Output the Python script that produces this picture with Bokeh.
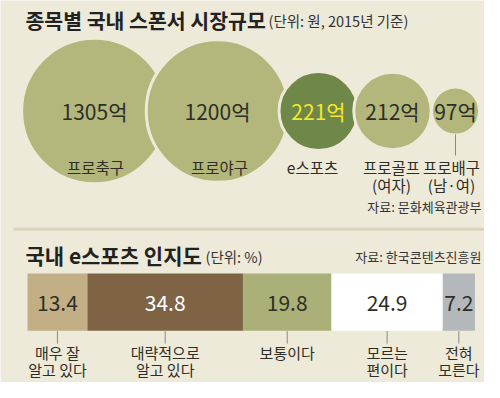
import numpy as np
from bokeh.plotting import figure
from bokeh.models import Range1d
from bokeh.core.properties import value
from bokeh.embed import file_html
from bokeh.resources import INLINE

# ---- data ----
sports = ["프로축구", "프로야구", "e스포츠", "프로골프\n(여자)", "프로배구\n(남·여)"]
market_eok = [1305, 1200, 221, 212, 97]
awareness_labels = ["매우 잘\n알고 있다", "대략적으로\n알고 있다", "보통이다", "모르는\n편이다", "전혀\n모른다"]
awareness_pct = [13.4, 34.8, 19.8, 24.9, 7.2]

title1 = "종목별 국내 스폰서 시장규모"
unit1 = "(단위: 원, 2015년 기준)"
source1 = "자료: 문화체육관광부"
title2 = "국내 e스포츠 인지도"
unit2 = "(단위: %)"
source2 = "자료: 한국콘텐츠진흥원"

# ---- style ----
BG = "#EEEAD9"
FONT = value("Noto Sans CJK KR")
DARK = "#2E2E28"
LINE = "#8C8C84"

p = figure(width=484, height=382, x_range=Range1d(0, 484), y_range=Range1d(394, 0),
           output_backend="svg", toolbar_location=None,
           x_axis_location=None, y_axis_location=None, min_border=0)
p.background_fill_color = BG
p.border_fill_color = BG
p.outline_line_color = None
p.grid.visible = False
# percentage scale for the stacked bar: 0..100 spans x = 27..474 px
p.extra_x_ranges = {"pct": Range1d((0 - 27) / 4.47, (484 - 27) / 4.47)}

# ---- titles ----
p.text(x=[25], y=[20], text=[title1], text_font=FONT, text_font_size="20.5px",
       text_font_style="bold", text_color="#222222", text_baseline="middle", text_align="left")
p.text(x=[268], y=[21], text=[unit1], text_font=FONT, text_font_size="14.5px",
       text_color="#333333", text_baseline="middle", text_align="left")

# ---- bubbles ----
m = np.array(market_eok, dtype=float)
radius = 24 + 18.8 * np.log(m / m.min())
cx = [94, 217, 318, 392, 455]
cy = 114
bub_colors = ["#B3B77B", "#B3B77B", "#6F8748", "#B3B77B", "#B3B77B"]
p.circle(x=cx, y=[cy] * 5, radius=radius, fill_color=bub_colors,
         line_color=BG, line_width=3)
num_colors = [DARK, DARK, "#F4E82C", DARK, DARK]
p.text(x=cx, y=[cy] * 5, text=[f"{v}억" for v in market_eok], text_font=FONT,
       text_font_size="21px", text_color=num_colors, text_align="center",
       text_baseline="middle")
# leader line for the smallest bubble
p.segment(x0=[cx[4]], y0=[cy + radius[4]], x1=[cx[4]], y1=[160],
          line_color=LINE, line_width=1)

lab_x = [95, 219, 312, 391, 451]
for i, lab in enumerate(sports):
    for j, line in enumerate(lab.split("\n")):
        p.text(x=[lab_x[i]], y=[172 + j * 18], text=[line], text_font=FONT,
               text_font_size="15.5px", text_color=DARK, text_align="center",
               text_baseline="middle")

p.text(x=[481], y=[212], text=[source1], text_font=FONT, text_font_size="13px",
       text_color="#333333", text_align="right", text_baseline="middle")

# ---- divider ----
p.segment(x0=[13], y0=[236], x1=[484], y1=[236], line_color="#DAD4BC", line_width=3)

# ---- second section ----
p.text(x=[25], y=[263], text=[title2], text_font=FONT, text_font_size="21px",
       text_font_style="bold", text_color="#222222", text_baseline="middle", text_align="left")
p.text(x=[205], y=[264], text=[unit2], text_font=FONT, text_font_size="14.5px",
       text_color="#333333", text_baseline="middle", text_align="left")
p.text(x=[481], y=[264], text=[source2], text_font=FONT, text_font_size="13px",
       text_color="#333333", text_align="right", text_baseline="middle")

a = np.array(awareness_pct)
right = np.cumsum(a)
left = right - a
mid = (left + right) / 2
bar_colors = ["#C3AF86", "#7E6344", "#AAB077", "#FFFFFF", "#B5B8BB"]
p.hbar(y=[311] * 5, height=59, left=left, right=right, fill_color=bar_colors,
       line_color=None, x_range_name="pct")
val_colors = [DARK, "#FFFFFF", DARK, DARK, DARK]
p.text(x=mid, y=[312] * 5, text=[f"{v}" for v in awareness_pct], text_font=FONT,
       text_font_size="21px", text_color=val_colors, text_align="center",
       text_baseline="middle", x_range_name="pct")
p.segment(x0=mid, y0=[341] * 5, x1=mid, y1=[354] * 5, line_color=LINE,
          line_width=1, x_range_name="pct")
for i, lab in enumerate(awareness_labels):
    for j, line in enumerate(lab.split("\n")):
        p.text(x=[mid[i]], y=[363 + j * 18], text=[line], text_font=FONT,
               text_font_size="15px", text_color=DARK, text_align="center",
               text_baseline="middle", x_range_name="pct")

open("out.html", "w").write(file_html(p, INLINE))
